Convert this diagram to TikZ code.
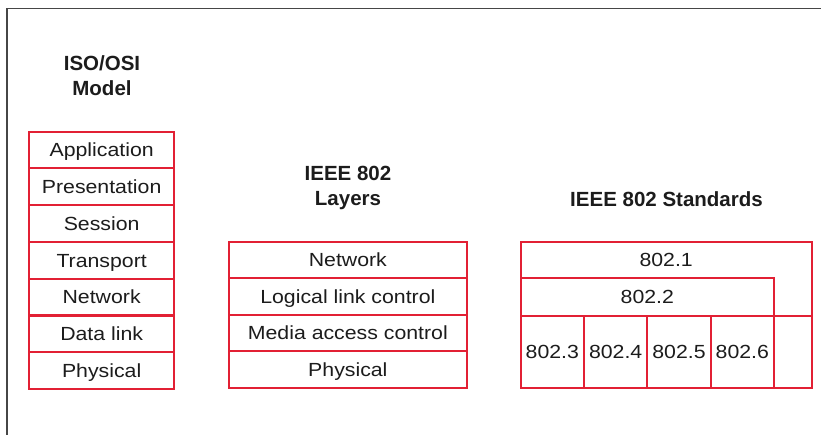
\documentclass[tikz,border=0pt]{standalone}
\usepackage{fontspec}
\setmainfont{Liberation Sans}
\newfontfamily\bodyfont[FakeStretch=1.12]{Liberation Sans}
\definecolor{osired}{RGB}{226,32,52}
\definecolor{txt}{RGB}{28,28,28}
\definecolor{frame}{RGB}{70,70,70}
\begin{document}
\begin{tikzpicture}[x=1pt,y=-1pt,
  cell/.style={draw=osired, line width=2pt, inner sep=0pt, text=txt,
    text height=13.4pt, text depth=0pt,
    font=\bodyfont\fontsize{19}{22}\selectfont},
  isocell/.style={cell, minimum width=145.3pt, minimum height=36.76pt},
  ieeecell/.style={cell, minimum width=237.7pt, minimum height=36.5pt},
  stdcell/.style={cell, minimum height=72pt},
  title/.style={text=txt, align=center, inner sep=0pt,
    font=\bfseries\fontsize{20.5}{25}\selectfont},
  redline/.style={draw=osired, line width=2pt},
  frameline/.style={draw=frame, line width=1.8pt}]
\useasboundingbox (0,0) rectangle (821,435);
\fill[white] (0,0) rectangle (821,435);
% frame
\coordinate (fTL) at (7,8.5);
\coordinate (fTR) at (821,8.5);
\coordinate (fBL) at (7,435);
\draw[frameline] (fTR) -- (fTL) -- (fBL);
% titles
\node[title] (isoT) at (102,76) {ISO/OSI\\Model};
\node[title] (ieeeT) at (348,188) {IEEE 802\\Layers};
\node[title, anchor=base] (stdT) at (666.5,207) {IEEE 802 Standards};
% ISO/OSI
\node[isocell] (app) at (101.65,150.1) {Application};
\node[isocell] (pres) at (101.65,186.8) {Presentation};
\node[isocell] (sess) at (101.65,223.6) {Session};
\node[isocell] (trans) at (101.65,260.4) {Transport};
\node[isocell] (net) at (101.65,297.1) {Network};
\node[isocell] (dl) at (101.65,333.9) {Data link};
\node[isocell] (phys) at (101.65,370.6) {Physical};
% IEEE 802 layers
\node[ieeecell] (lnet) at (347.85,259.95) {Network};
\node[ieeecell] (llc) at (347.85,296.45) {Logical link control};
\node[ieeecell] (mac) at (347.85,332.95) {Media access control};
\node[ieeecell] (lphys) at (347.85,369.45) {Physical};
% IEEE 802 standards
\coordinate (s1a) at (520.7,241.7);
\coordinate (s1b) at (811.7,241.7);
\coordinate (s1c) at (811.7,315.7);
\coordinate (s1d) at (774,315.7);
\coordinate (s1e) at (774,278.3);
\coordinate (s1f) at (520.7,278.3);
\draw[redline] (s1a) -- (s1b) -- (s1c) -- (s1d) -- (s1e) -- (s1f) -- cycle;
\node[text=txt, inner sep=0pt, text height=13.4pt, text depth=0pt,
  font=\bodyfont\fontsize{19}{22}\selectfont] (s1) at (666.2,260) {802.1};
\node[cell, minimum width=253.3pt, minimum height=37.4pt] (s2) at (647.35,297) {802.2};
\node[stdcell, minimum width=63.3pt] (s3) at (552.35,351.7) {802.3};
\node[stdcell, minimum width=63.3pt] (s4) at (615.65,351.7) {802.4};
\node[stdcell, minimum width=63.4pt] (s5) at (679,351.7) {802.5};
\node[stdcell, minimum width=63.3pt] (s6) at (742.35,351.7) {802.6};
\node[stdcell, minimum width=37.7pt] (s7) at (792.85,351.7) {};
\end{tikzpicture}
\end{document}
